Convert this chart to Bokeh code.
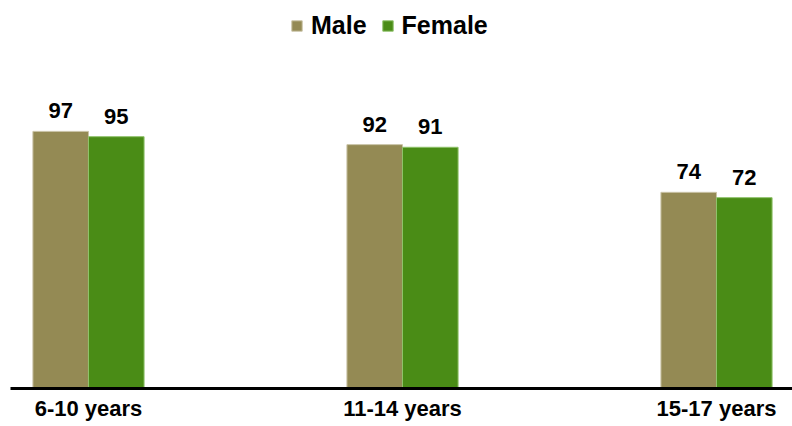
from bokeh.plotting import figure
from bokeh.models import ColumnDataSource, FixedTicker, LabelSet, Legend, Range1d
from bokeh.transform import dodge
from bokeh.core.properties import value
from bokeh.embed import file_html
from bokeh.resources import INLINE

categories = ["6-10 years", "11-14 years", "15-17 years"]
male = [97, 92, 74]
female = [95, 91, 72]

MALE_COLOR = "#948A54"
FEMALE_COLOR = "#4A8C16"
FONT = "Liberation Sans"

xs = list(range(len(categories)))
source = ColumnDataSource(data=dict(
    x=xs,
    male=male,
    female=female,
    male_txt=[str(v) for v in male],
    female_txt=[str(v) for v in female],
))

p = figure(width=792, height=426, output_backend="svg", toolbar_location=None,
           x_range=Range1d(-0.2484, 2.242), y_range=Range1d(0, 142.6),
           y_axis_location=None, min_border_left=10, min_border_right=0,
           min_border_top=10, min_border_bottom=38)

bw = 0.177
rm = p.vbar(x=dodge("x", -bw / 2, range=p.x_range), top="male", width=bw, source=source,
            fill_color=MALE_COLOR, line_color="#c9c3a6", line_width=1)
rf = p.vbar(x=dodge("x", bw / 2, range=p.x_range), top="female", width=bw, source=source,
            fill_color=FEMALE_COLOR, line_color="#8fc26a", line_width=1)

for col, off in (("male", -bw / 2), ("female", bw / 2)):
    p.add_layout(LabelSet(x=dodge("x", off, range=p.x_range), y=col, text=col + "_txt",
                          source=source, text_align="center", text_baseline="alphabetic",
                          y_offset=13, text_font=value(FONT), text_font_style="bold",
                          text_font_size="22px", text_color="black"))

legend = Legend(items=[("Male", [rm]), ("Female", [rf])], orientation="horizontal",
                location=(280, 348), glyph_width=13, glyph_height=13, label_standoff=8,
                spacing=14, padding=0, margin=0, border_line_color=None,
                background_fill_alpha=0, label_text_font=FONT, label_text_font_style="bold",
                label_text_font_size="25px", label_text_color="black")
p.add_layout(legend)

p.xaxis.ticker = FixedTicker(ticks=xs)
p.xaxis.major_label_overrides = {i: c for i, c in zip(xs, categories)}
p.xaxis.axis_line_width = 3
p.xaxis.axis_line_color = "black"
p.xaxis.major_tick_line_color = None
p.xaxis.minor_tick_line_color = None
p.xaxis.major_tick_out = 0
p.xaxis.major_tick_in = 0
p.xaxis.major_label_standoff = 7
p.xaxis.major_label_text_font = FONT
p.xaxis.major_label_text_font_style = "bold"
p.xaxis.major_label_text_font_size = "22px"
p.xaxis.major_label_text_color = "black"

p.xgrid.visible = False
p.ygrid.visible = False
p.outline_line_color = None
p.background_fill_color = "white"
p.border_fill_color = "white"

open("out.html", "w").write(file_html(p, INLINE))
